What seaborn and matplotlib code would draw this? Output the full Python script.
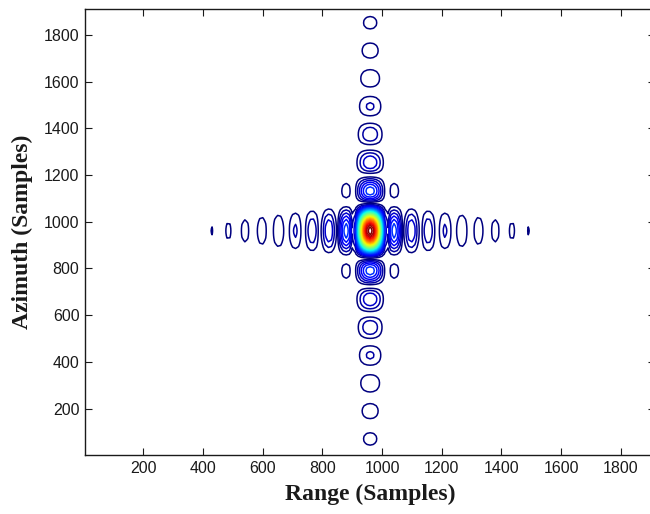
import numpy as np
import matplotlib
matplotlib.use("Agg")
import matplotlib.pyplot as plt
import seaborn as sns

# Point-target response
centre_range = 960        # samples
centre_azimuth = 961      # samples
range_lobe_width = 56     # samples between range nulls
azimuth_lobe_width = 119  # samples between azimuth nulls
n_levels = 30             # contour levels between 0 and peak
sample_step = 10          # coarse grid gives the jagged outlines

x_ticks = [200, 400, 600, 800, 1000, 1200, 1400, 1600, 1800]
y_ticks = [200, 400, 600, 800, 1000, 1200, 1400, 1600, 1800]
x_lim = (4, 1915)
y_lim = (1, 1911)

# Field: separable |sinc| magnitude
rng = np.arange(0, 1921, sample_step)
azi = np.arange(1, 1921, sample_step)
R, A = np.meshgrid(rng, azi)
Z = np.abs(np.sinc((R - centre_range) / range_lobe_width)) * \
    np.abs(np.sinc((A - centre_azimuth) / azimuth_lobe_width))
levels = np.linspace(0, 1, n_levels + 2)[1:-1]

sns.set_theme(style="ticks")
plt.rcParams['font.family'] = ['Liberation Sans', 'DejaVu Sans']

fig = plt.figure(figsize=(6.5, 5.14), dpi=100)
ax = fig.add_axes([85 / 650, 1 - 455 / 514, 570 / 650, 446 / 514])
ax.contour(R, A, Z, levels=levels, cmap="jet", linewidths=1.1)

ax.set_xlim(*x_lim)
ax.set_ylim(*y_lim)
ax.set_xticks(x_ticks)
ax.set_yticks(y_ticks)
ax.tick_params(direction="in", length=5, width=0.8, top=True, right=True,
               labelsize=11.5, colors="#1a1a1a", pad=4)
for s in ax.spines.values():
    s.set_linewidth(1.0)
    s.set_color("#1a1a1a")

lab = dict(family=["Liberation Serif", "DejaVu Serif"], fontweight="bold",
           fontsize=17, color="#1a1a1a")
ax.set_xlabel("Range (Samples)", labelpad=6, **lab)
ax.set_ylabel("Azimuth (Samples)", labelpad=8, **lab)

fig.savefig("out.png", dpi=100)
